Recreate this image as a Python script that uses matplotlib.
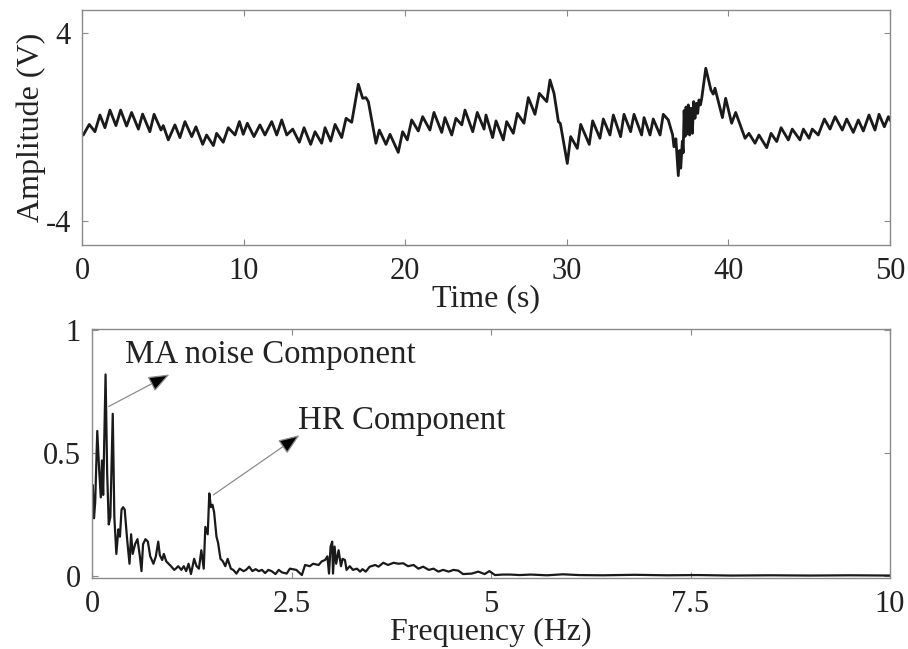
import matplotlib
matplotlib.use('Agg')
import matplotlib.pyplot as plt

plt.rcParams['font.family'] = ['Liberation Serif', 'DejaVu Serif']
plt.rcParams['font.size'] = 23
plt.rcParams['axes.unicode_minus'] = False

# time signal (s, V)
t_sig = [0.0, 0.08, 0.45, 0.8, 1.11, 1.42, 1.73, 2.1, 2.39, 2.76, 3.07, 3.49, 3.75, 4.2,
         4.46, 4.89, 5.03, 5.34, 5.75, 6.06, 6.37, 6.79, 7.05, 7.47, 7.71, 8.13, 8.33, 8.74,
         9.05, 9.47, 9.74, 9.98, 10.23, 10.64, 11.01, 11.32, 11.74, 12.05, 12.36, 12.67,
         13.04, 13.45, 13.74, 14.15, 14.42, 14.83, 15.04, 15.39, 15.66, 16.07, 16.34, 16.69,
         17.1, 17.37, 17.57, 17.72, 18.19, 18.4, 18.81, 19.06, 19.57, 19.84, 20.13, 20.4,
         20.81, 21.08, 21.53, 21.78, 22.26, 22.46, 22.88, 23.14, 23.5, 23.7, 24.18, 24.46,
         24.88, 25.0, 25.41, 25.62, 26.07, 26.28, 26.69, 26.94, 27.35, 27.62, 28.03, 28.3,
         28.76, 28.96, 29.21, 29.48, 29.6, 30.03, 30.24, 30.65, 30.86, 31.39, 31.6, 32.05,
         32.26, 32.67, 32.88, 33.33, 33.54, 33.95, 34.16, 34.63, 34.78, 35.15, 35.35, 35.77,
         35.97, 36.28, 36.55, 36.63, 36.75, 36.9, 36.98, 37.05, 37.15, 37.2, 37.26, 37.32,
         37.38, 37.44, 37.52, 37.6, 37.68, 37.77, 37.85, 37.93, 38.02, 38.1, 38.18, 38.27,
         38.35, 38.6, 38.92, 39.06, 39.17, 39.63, 39.83, 40.2, 40.45, 41.03, 41.27, 41.65,
         41.89, 42.37, 42.64, 42.99, 43.26, 43.71, 43.95, 44.43, 44.64, 44.99, 45.19, 45.56,
         45.94, 46.29, 46.6, 47.05, 47.32, 47.73, 48.04, 48.35, 48.7, 49.07, 49.32, 49.65,
         49.9, 50.0]
v_sig = [-0.3, -0.34, 0.11, -0.2, 0.51, -0.03, 0.72, 0.06, 0.72, 0.04, 0.62, -0.09, 0.55, -0.2,
         0.54, -0.13, 0.06, -0.55, 0.09, -0.45, 0.23, -0.41, 0.01, -0.74, -0.34, -0.79, -0.27, -0.65,
         -0.03, -0.34, 0.23, -0.31, 0.16, -0.41, 0.09, -0.34, 0.23, -0.34, 0.3, -0.34,
         -0.09, -0.65, -0.03, -0.74, -0.2, -0.69, -0.03, -0.6, 0.11, -0.45, 0.37, 0.2,
         1.82, 1.22, 1.25, 1.08, -0.69, -0.13, -0.74, -0.31, -1.08, -0.2, -0.55, 0.3,
         -0.17, 0.44, -0.13, 0.62, -0.23, 0.4, -0.34, 0.37, 0.09, 0.72, -0.2, 0.62,
         -0.09, 0.51, -0.45, 0.26, -0.55, 0.23, -0.27, 0.58, 0.16, 1.25, 0.54, 1.43,
         1.08, 2.0, 1.43, 0.23, 0.15, -1.55, -0.41, -0.91, 0.11, -0.74, 0.26, -0.48,
         0.34, -0.34, 0.51, -0.41, 0.54, -0.2, 0.54, -0.34, 0.4, -0.34, 0.34, -0.34,
         0.54, 0.3, -0.34, -0.84, -0.5, -2.07, -1.0, -1.75, -0.6, -1.1, 0.7, -0.4,
         0.85, -0.3, 0.94, -0.34, 0.8, -0.27, 1.08, 0.37, 1.01, 0.58, 1.15, 0.94,
         1.22, 2.5, 1.57, 1.4, 1.65, 0.4, 1.22, 0.16, 0.62, -0.48, -0.27, -0.69,
         -0.34, -0.88, -0.27, -0.62, -0.03, -0.55, -0.09, -0.55, -0.09, -0.48, -0.09, -0.34,
         0.34, -0.09, 0.44, -0.13, 0.34, -0.23, 0.3, -0.17, 0.51, -0.13, 0.54, 0.01,
         0.44, 0.3]

# magnitude spectrum (Hz, a.u.)
f_spec = [0.0, 0.01, 0.025, 0.04, 0.066, 0.09, 0.11, 0.125, 0.14, 0.17, 0.19, 0.21, 0.23,
          0.26, 0.28, 0.305, 0.33, 0.35, 0.37, 0.39, 0.41, 0.44, 0.47, 0.49, 0.51, 0.54,
          0.57, 0.6, 0.62, 0.64, 0.67, 0.7, 0.73, 0.77, 0.8, 0.83, 0.85, 0.88, 0.9, 0.93,
          0.96, 0.99, 1.03, 1.05, 1.08, 1.12, 1.15, 1.18, 1.21, 1.24, 1.28, 1.31, 1.34,
          1.37, 1.4, 1.42, 1.45, 1.47, 1.49, 1.51, 1.53, 1.56, 1.58, 1.61, 1.64, 1.67,
          1.7, 1.74, 1.77, 1.81, 1.85, 1.9, 1.93, 1.97, 2.01, 2.05, 2.09, 2.13, 2.17,
          2.21, 2.25, 2.3, 2.34, 2.38, 2.44, 2.48, 2.56, 2.63, 2.67, 2.73, 2.77, 2.84,
          2.88, 2.92, 2.95, 2.97, 2.99, 3.01, 3.02, 3.04, 3.06, 3.09, 3.12, 3.14, 3.17,
          3.19, 3.23, 3.27, 3.32, 3.36, 3.39, 3.43, 3.48, 3.55, 3.59, 3.65, 3.71, 3.78,
          3.84, 3.9, 3.96, 4.03, 4.09, 4.15, 4.22, 4.28, 4.34, 4.4, 4.47, 4.53, 4.59,
          4.65, 4.76, 4.84, 4.92, 4.98, 5.05, 5.15, 5.24, 5.36, 5.5, 5.7, 5.9, 6.1,
          6.4, 6.8, 7.2, 7.6, 8.0, 8.5, 9.0, 9.5, 10.0]
a_spec = [0.34, 0.37, 0.235, 0.3, 0.59, 0.43, 0.32, 0.47, 0.33, 0.82, 0.42, 0.21, 0.24,
          0.66, 0.24, 0.09, 0.19, 0.16, 0.27, 0.28, 0.27, 0.15, 0.05, 0.17, 0.09, 0.13,
          0.15, 0.08, 0.02, 0.13, 0.15, 0.14, 0.08, 0.05, 0.08, 0.14, 0.085, 0.065, 0.09, 0.06,
          0.05, 0.04, 0.025, 0.03, 0.04, 0.025, 0.04, 0.02, 0.05, 0.008, 0.07, 0.04, 0.03,
          0.105, 0.03, 0.2, 0.17, 0.336, 0.28, 0.29, 0.26, 0.16, 0.135, 0.07, 0.06, 0.04,
          0.07, 0.03, 0.025, 0.01, 0.03, 0.02, 0.025, 0.038, 0.02, 0.028, 0.02, 0.025, 0.012,
          0.025, 0.02, 0.008, 0.025, 0.015, 0.01, 0.03, 0.025, 0.004, 0.045, 0.04, 0.05, 0.045,
          0.06, 0.065, 0.08, 0.01, 0.12, 0.14, 0.01, 0.12, 0.05, 0.105, 0.04, 0.07, 0.065,
          0.025, 0.04, 0.025, 0.03, 0.018, 0.028, 0.018, 0.038, 0.045, 0.038, 0.054, 0.045, 0.054,
          0.05, 0.052, 0.04, 0.045, 0.03, 0.038, 0.025, 0.03, 0.018, 0.025, 0.018, 0.025, 0.022,
          0.008, 0.01, 0.018, 0.008, 0.02, 0.004, 0.006, 0.006, 0.004, 0.006, 0.003, 0.007, 0.004,
          0.003, 0.005, 0.003, 0.004, 0.002, 0.003, 0.002, 0.003, 0.002]

time_ticks = [0, 10, 20, 30, 40, 50]
amp_ticks = [-4, 4]
freq_ticks = [0, 2.5, 5, 7.5, 10]
freq_labels = ['0', '2.5', '5', '7.5', '10']
mag_ticks = [0, 0.5, 1]

txt = '#222222'
frame = '#8a8a8a'

fig = plt.figure(figsize=(9.08, 6.49), dpi=100)
ax1 = fig.add_axes([82 / 908, 1 - 244.5 / 649, 808 / 908, 235 / 649])
ax2 = fig.add_axes([92 / 908, 1 - 578 / 649, 798 / 908, 249 / 649])

ax1.plot(t_sig, v_sig, color='#1a1a1a', lw=2.0, solid_joinstyle='round')
ax1.set_xlim(0, 50)
ax1.set_ylim(-5, 5)
ax1.set_xticks(time_ticks)
ax1.set_yticks(amp_ticks)
ax1.set_xlabel('Time (s)', color=txt, labelpad=-1)
ax1.set_ylabel('Amplitude (V)', color=txt, labelpad=0)

ax2.plot(f_spec, a_spec, color='#1a1a1a', lw=1.6, solid_joinstyle='round')
ax2.set_xlim(0, 10)
ax2.set_ylim(-0.008, 1.005)
ax2.set_xticks(freq_ticks)
ax2.set_xticklabels(freq_labels)
ax2.set_yticks(mag_ticks)
ax2.set_yticklabels(['0', '0.5', '1'])
ax2.set_xlabel('Frequency (Hz)', color=txt, labelpad=-1)

for ax in (ax1, ax2):
    ax.tick_params(direction='in', top=True, right=True, length=4, width=0.8,
                   color=frame, labelcolor=txt, labelsize=22)
    ax.tick_params(axis='x', pad=9)
    ax.tick_params(axis='y', pad=8)
    for s in ax.spines.values():
        s.set_color(frame)
        s.set_linewidth(1.0)

arrow = dict(arrowstyle='-|>,head_length=0.65,head_width=0.25', ec='#8c8c8c', fc='black',
             lw=0.9, mutation_scale=20, shrinkA=0, shrinkB=0)
ax2.annotate('', xy=(0.97, 0.82), xytext=(0.21, 0.69), arrowprops=arrow)
ax2.annotate('', xy=(2.6, 0.573), xytext=(1.52, 0.33), arrowprops=arrow)
ax2.text(0.41, 0.90, 'MA noise Component', color=txt, va='center', ha='left', fontsize=23.7)
ax2.text(2.58, 0.63, 'HR Component', color=txt, va='center', ha='left', fontsize=23.7)

fig.savefig('out.png', dpi=100)
